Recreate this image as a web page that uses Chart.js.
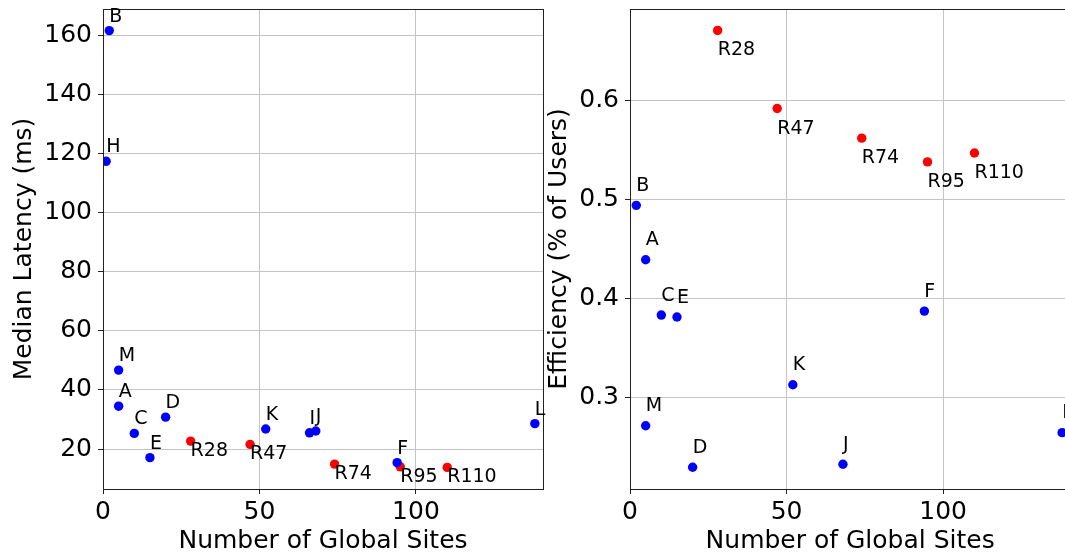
<!DOCTYPE html>
<html><head><meta charset="utf-8">
<script src="https://cdn.jsdelivr.net/npm/chart.js@4.4.0/dist/chart.umd.min.js"></script>
<style>
html,body{margin:0;padding:0;background:#fff;width:1065px;height:558px;overflow:hidden;position:relative}
canvas{position:absolute;top:0}
#c1{left:0}
#c2{left:530px}
</style></head><body>
<canvas id="c1" width="552" height="558"></canvas>
<canvas id="c2" width="545" height="558"></canvas>
<script>
// ---- data ----
const latBlueNames = ['A','B','C','D','E','F','H','I','J','K','L','M'];
const latBlueX     = [5, 2, 10, 20, 15, 94, 1, 66, 68, 52, 138, 5];
const latBlueY     = [34.5, 161.5, 25.3, 30.8, 17.1, 15.4, 117.3, 25.5, 26.1, 26.8, 28.6, 46.7];
const latRedNames  = ['R28','R47','R74','R95','R110'];
const latRedX      = [28, 47, 74, 95, 110];
const latRedY      = [22.7, 21.6, 14.9, 14.0, 13.8];

const effBlueNames = ['A','B','C','D','E','F','J','K','L','M'];
const effBlueX     = [5, 2, 10, 20, 15, 94, 68, 52, 138, 5];
const effBlueY     = [0.439, 0.494, 0.383, 0.229, 0.381, 0.387, 0.232, 0.3125, 0.264, 0.271];
const effRedNames  = ['R28','R47','R74','R95','R110'];
const effRedX      = [28, 47, 74, 95, 110];
const effRedY      = [0.671, 0.592, 0.562, 0.538, 0.547];

const xTicks    = [0, 50, 100];
const latYTicks = [20, 40, 60, 80, 100, 120, 140, 160];
const effYTicks = [0.3, 0.4, 0.5, 0.6];

const FONT = 'DejaVu Sans';

function pts(xs, ys){ return xs.map((x,i)=>({x:x, y:ys[i]})); }

const framePlugin = {
  id:'frame',
  afterDatasetsDraw(chart){
    const a = chart.chartArea, ctx = chart.ctx;
    ctx.save();
    ctx.strokeStyle = '#222'; ctx.lineWidth = 1;
    ctx.strokeRect(Math.round(a.left)+0.5, Math.round(a.top)+0.5, Math.round(a.right-a.left), Math.round(a.bottom-a.top));
    ctx.restore();
  }
};
const labelPlugin = {
  id:'ptlabels',
  afterDatasetsDraw(chart){
    const ctx = chart.ctx;
    const o = chart.options.plugins.ptlabels;
    ctx.save();
    ctx.font = '19px "' + FONT + '"';
    ctx.fillStyle = '#000';
    ctx.textAlign = 'left';
    ctx.textBaseline = 'alphabetic';
    chart.data.datasets.forEach((ds, di) => {
      const meta = chart.getDatasetMeta(di);
      meta.data.forEach((el, i) => {
        ctx.fillText(ds.names[i], el.x + o.dx, el.y + (ds.below ? o.dyBelow : o.dyAbove));
      });
    });
    ctx.restore();
  }
};

function makeChart(id, cfg){
  return new Chart(document.getElementById(id), {
    type:'scatter',
    data:{datasets:[
      {data:pts(cfg.bx, cfg.by), names:cfg.bn, below:false, backgroundColor:'#0000ff', borderWidth:0, pointRadius:4.7, pointHoverRadius:4.7, clip:0},
      {data:pts(cfg.rx, cfg.ry), names:cfg.rn, below:true, backgroundColor:'#ff0000', borderWidth:0, pointRadius:4.7, pointHoverRadius:4.7, clip:0}
    ]},
    options:{
      responsive:false, animation:false, devicePixelRatio:1,
      layout:{padding:{top:9, right:cfg.padRight, bottom:0, left:0}},
      plugins:{legend:{display:false}, tooltip:{enabled:false},
        ptlabels:{dx:0, dyAbove:cfg.dyAbove, dyBelow:cfg.dyBelow}},
      scales:{
        x:{type:'linear', position:'bottom', min:0, max:140.6,
          afterBuildTicks:s=>{ s.ticks = xTicks.map(v=>({value:v})); },
          afterFit:s=>{ s.height = 69; s.paddingLeft = 0; s.paddingRight = 0; },
          grid:{color:'#c4c4c4', lineWidth:1, tickColor:'#222', tickLength:5, drawTicks:true},
          border:{display:true, color:'#222', width:1},
          ticks:{color:'#000', font:{family:FONT, size:25}, padding:3, maxRotation:0, autoSkip:false},
          title:{display:true, text:'Number of Global Sites', color:'#000', font:{family:FONT, size:25}, padding:{top:0, bottom:2}}
        },
        y:{type:'linear', position:'left', min:cfg.yMin, max:cfg.yMax,
          afterBuildTicks:s=>{ s.ticks = cfg.yTicks.map(v=>({value:v})); },
          afterFit:s=>{ s.width = cfg.yAxisW; s.paddingTop = 0; s.paddingBottom = 0; },
          grid:{color:'#c4c4c4', lineWidth:1, tickColor:'#222', tickLength:5, drawTicks:true},
          border:{display:true, color:'#222', width:1},
          ticks:{color:'#000', font:{family:FONT, size:25}, padding:6, autoSkip:false, callback:cfg.fmt},
          title:{display:true, text:cfg.yTitle, color:'#000', font:{family:FONT, size:25}, padding:{top:cfg.titlePad, bottom:0}}
        }
      }
    },
    plugins:[framePlugin, labelPlugin]
  });
}

makeChart('c1', {
  bx:latBlueX, by:latBlueY, bn:latBlueNames, rx:latRedX, ry:latRedY, rn:latRedNames,
  yMin:6.5, yMax:168.8, yTicks:latYTicks, yAxisW:103, padRight:9, titlePad:9,
  yTitle:'Median Latency (ms)', fmt:v=>String(v), dyAbove:-9, dyBelow:15
});
makeChart('c2', {
  bx:effBlueX, by:effBlueY, bn:effBlueNames, rx:effRedX, ry:effRedY, rn:effRedNames,
  yMin:0.207, yMax:0.6927, yTicks:effYTicks, yAxisW:100, padRight:3, titlePad:14,
  yTitle:'Efficiency (% of Users)', fmt:v=>v.toFixed(1), dyAbove:-14.5, dyBelow:25
});
</script>
</body></html>
